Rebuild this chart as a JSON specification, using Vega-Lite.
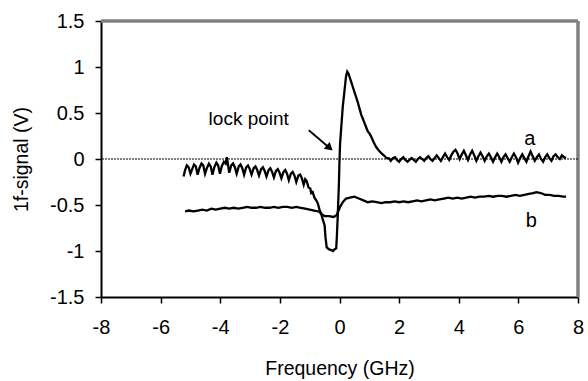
{
  "$schema": "https://vega.github.io/schema/vega-lite/v6.json",
  "width": 477,
  "height": 276,
  "autosize": {"type": "none"},
  "padding": {"left": 101, "top": 21, "right": 10, "bottom": 84},
  "background": "white",
  "config": {
    "view": {"stroke": null},
    "font": "Liberation Sans",
    "axis": {
      "grid": false,
      "zindex": 1,
      "domainColor": "black",
      "domainWidth": 2,
      "tickColor": "black",
      "tickWidth": 1.5,
      "tickSize": 6,
      "labelFontSize": 20,
      "labelColor": "black",
      "labelFlush": false,
      "titleFontSize": 19.5,
      "titleFontWeight": "normal",
      "titleColor": "black"
    }
  },
  "datasets": {
    "curves": [
      {"s": "a", "x": -5.23, "y": -0.19}, {"s": "a", "x": -5.18, "y": -0.12}, {"s": "a", "x": -5.12, "y": -0.07}, {"s": "a", "x": -5.06, "y": -0.09},
      {"s": "a", "x": -5.0, "y": -0.16}, {"s": "a", "x": -4.94, "y": -0.11}, {"s": "a", "x": -4.88, "y": -0.06}, {"s": "a", "x": -4.82, "y": -0.08},
      {"s": "a", "x": -4.76, "y": -0.17}, {"s": "a", "x": -4.7, "y": -0.10}, {"s": "a", "x": -4.63, "y": -0.05}, {"s": "a", "x": -4.57, "y": -0.07},
      {"s": "a", "x": -4.51, "y": -0.16}, {"s": "a", "x": -4.45, "y": -0.10}, {"s": "a", "x": -4.38, "y": -0.05}, {"s": "a", "x": -4.32, "y": -0.08},
      {"s": "a", "x": -4.26, "y": -0.17}, {"s": "a", "x": -4.2, "y": -0.09}, {"s": "a", "x": -4.13, "y": -0.04}, {"s": "a", "x": -4.07, "y": -0.07},
      {"s": "a", "x": -4.01, "y": -0.16}, {"s": "a", "x": -3.95, "y": -0.08}, {"s": "a", "x": -3.88, "y": -0.03}, {"s": "a", "x": -3.82, "y": -0.05},
      {"s": "a", "x": -3.78, "y": 0.02}, {"s": "a", "x": -3.74, "y": -0.06}, {"s": "a", "x": -3.7, "y": -0.15}, {"s": "a", "x": -3.63, "y": -0.07},
      {"s": "a", "x": -3.57, "y": -0.05}, {"s": "a", "x": -3.51, "y": -0.09}, {"s": "a", "x": -3.45, "y": -0.16}, {"s": "a", "x": -3.38, "y": -0.08},
      {"s": "a", "x": -3.32, "y": -0.06}, {"s": "a", "x": -3.26, "y": -0.10}, {"s": "a", "x": -3.2, "y": -0.17}, {"s": "a", "x": -3.13, "y": -0.09},
      {"s": "a", "x": -3.07, "y": -0.07}, {"s": "a", "x": -3.01, "y": -0.11}, {"s": "a", "x": -2.95, "y": -0.17}, {"s": "a", "x": -2.88, "y": -0.10},
      {"s": "a", "x": -2.82, "y": -0.08}, {"s": "a", "x": -2.76, "y": -0.12}, {"s": "a", "x": -2.7, "y": -0.18}, {"s": "a", "x": -2.63, "y": -0.11},
      {"s": "a", "x": -2.57, "y": -0.09}, {"s": "a", "x": -2.51, "y": -0.13}, {"s": "a", "x": -2.45, "y": -0.19}, {"s": "a", "x": -2.38, "y": -0.12},
      {"s": "a", "x": -2.32, "y": -0.10}, {"s": "a", "x": -2.26, "y": -0.14}, {"s": "a", "x": -2.2, "y": -0.20}, {"s": "a", "x": -2.13, "y": -0.13},
      {"s": "a", "x": -2.07, "y": -0.11}, {"s": "a", "x": -2.01, "y": -0.15}, {"s": "a", "x": -1.95, "y": -0.21}, {"s": "a", "x": -1.88, "y": -0.14},
      {"s": "a", "x": -1.82, "y": -0.12}, {"s": "a", "x": -1.76, "y": -0.16}, {"s": "a", "x": -1.7, "y": -0.23}, {"s": "a", "x": -1.63, "y": -0.16},
      {"s": "a", "x": -1.57, "y": -0.14}, {"s": "a", "x": -1.51, "y": -0.18}, {"s": "a", "x": -1.45, "y": -0.25}, {"s": "a", "x": -1.38, "y": -0.18},
      {"s": "a", "x": -1.32, "y": -0.17}, {"s": "a", "x": -1.26, "y": -0.21}, {"s": "a", "x": -1.2, "y": -0.28}, {"s": "a", "x": -1.15, "y": -0.22},
      {"s": "a", "x": -1.1, "y": -0.24}, {"s": "a", "x": -1.04, "y": -0.31}, {"s": "a", "x": -0.98, "y": -0.32}, {"s": "a", "x": -0.95, "y": -0.37},
      {"s": "a", "x": -0.9, "y": -0.36}, {"s": "a", "x": -0.84, "y": -0.42}, {"s": "a", "x": -0.78, "y": -0.45}, {"s": "a", "x": -0.73, "y": -0.48},
      {"s": "a", "x": -0.67, "y": -0.55}, {"s": "a", "x": -0.61, "y": -0.60}, {"s": "a", "x": -0.56, "y": -0.66}, {"s": "a", "x": -0.5, "y": -0.72},
      {"s": "a", "x": -0.47, "y": -0.85}, {"s": "a", "x": -0.43, "y": -0.96}, {"s": "a", "x": -0.36, "y": -0.98}, {"s": "a", "x": -0.28, "y": -0.99},
      {"s": "a", "x": -0.22, "y": -1.0}, {"s": "a", "x": -0.16, "y": -0.98}, {"s": "a", "x": -0.11, "y": -0.97}, {"s": "a", "x": -0.09, "y": -0.85},
      {"s": "a", "x": -0.06, "y": -0.63}, {"s": "a", "x": -0.02, "y": -0.27}, {"s": "a", "x": 0.0, "y": -0.01}, {"s": "a", "x": 0.02, "y": 0.17},
      {"s": "a", "x": 0.06, "y": 0.35}, {"s": "a", "x": 0.11, "y": 0.57}, {"s": "a", "x": 0.17, "y": 0.75}, {"s": "a", "x": 0.22, "y": 0.90},
      {"s": "a", "x": 0.26, "y": 0.95}, {"s": "a", "x": 0.3, "y": 0.93}, {"s": "a", "x": 0.35, "y": 0.88}, {"s": "a", "x": 0.39, "y": 0.84},
      {"s": "a", "x": 0.45, "y": 0.78}, {"s": "a", "x": 0.5, "y": 0.73}, {"s": "a", "x": 0.55, "y": 0.68}, {"s": "a", "x": 0.61, "y": 0.62},
      {"s": "a", "x": 0.67, "y": 0.55}, {"s": "a", "x": 0.73, "y": 0.48}, {"s": "a", "x": 0.78, "y": 0.44}, {"s": "a", "x": 0.84, "y": 0.39},
      {"s": "a", "x": 0.9, "y": 0.34}, {"s": "a", "x": 0.95, "y": 0.30}, {"s": "a", "x": 1.02, "y": 0.27}, {"s": "a", "x": 1.08, "y": 0.23},
      {"s": "a", "x": 1.15, "y": 0.18}, {"s": "a", "x": 1.23, "y": 0.13}, {"s": "a", "x": 1.3, "y": 0.10}, {"s": "a", "x": 1.38, "y": 0.07},
      {"s": "a", "x": 1.45, "y": 0.05}, {"s": "a", "x": 1.52, "y": 0.03}, {"s": "a", "x": 1.58, "y": 0.01}, {"s": "a", "x": 1.65, "y": 0.01},
      {"s": "a", "x": 1.72, "y": -0.02}, {"s": "a", "x": 1.79, "y": 0.01}, {"s": "a", "x": 1.86, "y": 0.02}, {"s": "a", "x": 1.93, "y": -0.01},
      {"s": "a", "x": 2.0, "y": -0.03}, {"s": "a", "x": 2.07, "y": 0.0}, {"s": "a", "x": 2.14, "y": 0.02}, {"s": "a", "x": 2.21, "y": -0.01},
      {"s": "a", "x": 2.28, "y": -0.03}, {"s": "a", "x": 2.35, "y": -0.01}, {"s": "a", "x": 2.42, "y": 0.01}, {"s": "a", "x": 2.49, "y": -0.01},
      {"s": "a", "x": 2.56, "y": -0.03}, {"s": "a", "x": 2.63, "y": 0.0}, {"s": "a", "x": 2.7, "y": 0.02}, {"s": "a", "x": 2.77, "y": 0.0},
      {"s": "a", "x": 2.84, "y": -0.02}, {"s": "a", "x": 2.91, "y": 0.01}, {"s": "a", "x": 2.98, "y": 0.03}, {"s": "a", "x": 3.05, "y": 0.0},
      {"s": "a", "x": 3.12, "y": -0.02}, {"s": "a", "x": 3.19, "y": 0.01}, {"s": "a", "x": 3.26, "y": 0.04}, {"s": "a", "x": 3.33, "y": 0.01},
      {"s": "a", "x": 3.4, "y": -0.02}, {"s": "a", "x": 3.47, "y": 0.02}, {"s": "a", "x": 3.54, "y": 0.06}, {"s": "a", "x": 3.61, "y": 0.02},
      {"s": "a", "x": 3.68, "y": -0.01}, {"s": "a", "x": 3.75, "y": 0.04}, {"s": "a", "x": 3.82, "y": 0.08}, {"s": "a", "x": 3.89, "y": 0.10},
      {"s": "a", "x": 3.96, "y": 0.06}, {"s": "a", "x": 4.03, "y": 0.0}, {"s": "a", "x": 4.1, "y": 0.05}, {"s": "a", "x": 4.17, "y": 0.09},
      {"s": "a", "x": 4.24, "y": 0.04}, {"s": "a", "x": 4.31, "y": -0.01}, {"s": "a", "x": 4.38, "y": 0.05}, {"s": "a", "x": 4.45, "y": 0.09},
      {"s": "a", "x": 4.52, "y": 0.04}, {"s": "a", "x": 4.59, "y": -0.02}, {"s": "a", "x": 4.66, "y": 0.03}, {"s": "a", "x": 4.73, "y": 0.07},
      {"s": "a", "x": 4.8, "y": 0.03}, {"s": "a", "x": 4.87, "y": -0.02}, {"s": "a", "x": 4.94, "y": 0.03}, {"s": "a", "x": 5.01, "y": 0.06},
      {"s": "a", "x": 5.08, "y": 0.02}, {"s": "a", "x": 5.15, "y": -0.03}, {"s": "a", "x": 5.22, "y": 0.02}, {"s": "a", "x": 5.29, "y": 0.06},
      {"s": "a", "x": 5.36, "y": 0.02}, {"s": "a", "x": 5.43, "y": -0.03}, {"s": "a", "x": 5.5, "y": 0.02}, {"s": "a", "x": 5.57, "y": 0.05},
      {"s": "a", "x": 5.64, "y": 0.01}, {"s": "a", "x": 5.71, "y": -0.03}, {"s": "a", "x": 5.78, "y": 0.02}, {"s": "a", "x": 5.85, "y": 0.06},
      {"s": "a", "x": 5.92, "y": 0.02}, {"s": "a", "x": 5.99, "y": -0.04}, {"s": "a", "x": 6.06, "y": 0.01}, {"s": "a", "x": 6.13, "y": 0.05},
      {"s": "a", "x": 6.2, "y": 0.01}, {"s": "a", "x": 6.27, "y": -0.03}, {"s": "a", "x": 6.34, "y": 0.03}, {"s": "a", "x": 6.41, "y": 0.08},
      {"s": "a", "x": 6.48, "y": 0.03}, {"s": "a", "x": 6.55, "y": -0.02}, {"s": "a", "x": 6.62, "y": 0.02}, {"s": "a", "x": 6.69, "y": 0.05},
      {"s": "a", "x": 6.76, "y": 0.0}, {"s": "a", "x": 6.83, "y": -0.03}, {"s": "a", "x": 6.9, "y": 0.02}, {"s": "a", "x": 6.97, "y": 0.05},
      {"s": "a", "x": 7.04, "y": 0.01}, {"s": "a", "x": 7.11, "y": -0.02}, {"s": "a", "x": 7.18, "y": 0.03}, {"s": "a", "x": 7.25, "y": 0.05},
      {"s": "a", "x": 7.32, "y": 0.02}, {"s": "a", "x": 7.39, "y": 0.0}, {"s": "a", "x": 7.46, "y": 0.04}, {"s": "a", "x": 7.53, "y": 0.02},
      {"s": "a", "x": 7.6, "y": 0.01},
      {"s": "b", "x": -5.18, "y": -0.57}, {"s": "b", "x": -5.05, "y": -0.56}, {"s": "b", "x": -4.9, "y": -0.57}, {"s": "b", "x": -4.75, "y": -0.56},
      {"s": "b", "x": -4.6, "y": -0.55}, {"s": "b", "x": -4.45, "y": -0.56}, {"s": "b", "x": -4.3, "y": -0.54}, {"s": "b", "x": -4.15, "y": -0.55},
      {"s": "b", "x": -4.0, "y": -0.54}, {"s": "b", "x": -3.85, "y": -0.53}, {"s": "b", "x": -3.7, "y": -0.54}, {"s": "b", "x": -3.55, "y": -0.53},
      {"s": "b", "x": -3.4, "y": -0.54}, {"s": "b", "x": -3.25, "y": -0.53}, {"s": "b", "x": -3.1, "y": -0.52}, {"s": "b", "x": -2.95, "y": -0.53},
      {"s": "b", "x": -2.8, "y": -0.53}, {"s": "b", "x": -2.65, "y": -0.52}, {"s": "b", "x": -2.5, "y": -0.53}, {"s": "b", "x": -2.35, "y": -0.53},
      {"s": "b", "x": -2.2, "y": -0.52}, {"s": "b", "x": -2.05, "y": -0.53}, {"s": "b", "x": -1.9, "y": -0.52}, {"s": "b", "x": -1.75, "y": -0.52},
      {"s": "b", "x": -1.6, "y": -0.53}, {"s": "b", "x": -1.45, "y": -0.52}, {"s": "b", "x": -1.3, "y": -0.53}, {"s": "b", "x": -1.15, "y": -0.54},
      {"s": "b", "x": -1.0, "y": -0.55}, {"s": "b", "x": -0.85, "y": -0.56}, {"s": "b", "x": -0.7, "y": -0.57}, {"s": "b", "x": -0.6, "y": -0.60},
      {"s": "b", "x": -0.5, "y": -0.62}, {"s": "b", "x": -0.35, "y": -0.62}, {"s": "b", "x": -0.2, "y": -0.63}, {"s": "b", "x": -0.1, "y": -0.61},
      {"s": "b", "x": -0.03, "y": -0.56}, {"s": "b", "x": 0.02, "y": -0.52}, {"s": "b", "x": 0.11, "y": -0.47}, {"s": "b", "x": 0.22, "y": -0.43},
      {"s": "b", "x": 0.35, "y": -0.42}, {"s": "b", "x": 0.5, "y": -0.41}, {"s": "b", "x": 0.65, "y": -0.43}, {"s": "b", "x": 0.8, "y": -0.45},
      {"s": "b", "x": 0.95, "y": -0.47}, {"s": "b", "x": 1.1, "y": -0.46}, {"s": "b", "x": 1.25, "y": -0.47}, {"s": "b", "x": 1.4, "y": -0.48},
      {"s": "b", "x": 1.55, "y": -0.47}, {"s": "b", "x": 1.7, "y": -0.47}, {"s": "b", "x": 1.85, "y": -0.46}, {"s": "b", "x": 2.0, "y": -0.47},
      {"s": "b", "x": 2.15, "y": -0.46}, {"s": "b", "x": 2.3, "y": -0.47}, {"s": "b", "x": 2.45, "y": -0.46}, {"s": "b", "x": 2.6, "y": -0.45},
      {"s": "b", "x": 2.75, "y": -0.46}, {"s": "b", "x": 2.9, "y": -0.45}, {"s": "b", "x": 3.05, "y": -0.44}, {"s": "b", "x": 3.2, "y": -0.45},
      {"s": "b", "x": 3.35, "y": -0.44}, {"s": "b", "x": 3.5, "y": -0.43}, {"s": "b", "x": 3.65, "y": -0.42}, {"s": "b", "x": 3.8, "y": -0.43},
      {"s": "b", "x": 3.95, "y": -0.42}, {"s": "b", "x": 4.1, "y": -0.43}, {"s": "b", "x": 4.25, "y": -0.42}, {"s": "b", "x": 4.4, "y": -0.41},
      {"s": "b", "x": 4.55, "y": -0.42}, {"s": "b", "x": 4.7, "y": -0.41}, {"s": "b", "x": 4.85, "y": -0.41}, {"s": "b", "x": 5.0, "y": -0.40},
      {"s": "b", "x": 5.15, "y": -0.41}, {"s": "b", "x": 5.3, "y": -0.40}, {"s": "b", "x": 5.45, "y": -0.40}, {"s": "b", "x": 5.6, "y": -0.41},
      {"s": "b", "x": 5.75, "y": -0.40}, {"s": "b", "x": 5.9, "y": -0.39}, {"s": "b", "x": 6.05, "y": -0.40}, {"s": "b", "x": 6.2, "y": -0.39},
      {"s": "b", "x": 6.35, "y": -0.38}, {"s": "b", "x": 6.5, "y": -0.37}, {"s": "b", "x": 6.6, "y": -0.36}, {"s": "b", "x": 6.75, "y": -0.37},
      {"s": "b", "x": 6.9, "y": -0.39}, {"s": "b", "x": 7.05, "y": -0.39}, {"s": "b", "x": 7.2, "y": -0.40}, {"s": "b", "x": 7.35, "y": -0.40},
      {"s": "b", "x": 7.5, "y": -0.41}, {"s": "b", "x": 7.6, "y": -0.41}
    ],
    "labels": [
      {"x": -4.39, "y": 0.375, "text": "lock point", "align": "left"},
      {"x": 6.38, "y": 0.149, "text": "a", "align": "center"},
      {"x": 6.43, "y": -0.742, "text": "b", "align": "center"}
    ],
    "arrow": [
      {"x": -1.03, "y": 0.313, "x2": -0.33, "y2": 0.12}
    ],
    "frameTop": [{"y": 1.5}],
    "frameRight": [{"x": 8}]
  },
  "layer": [
    {
      "data": {"name": "frameTop"},
      "mark": {"type": "rule", "color": "gray", "strokeWidth": 3.5},
      "encoding": {"y": {"field": "y", "type": "quantitative", "scale": {"domain": [-1.5, 1.5], "nice": false}}}
    },
    {
      "data": {"name": "frameRight"},
      "mark": {"type": "rule", "color": "gray", "strokeWidth": 3.5},
      "encoding": {"x": {"field": "x", "type": "quantitative", "scale": {"domain": [-8, 8], "nice": false}}}
    },
    {
      "data": {"values": [{"y": 0}]},
      "mark": {"type": "rule", "strokeDash": [2, 1], "strokeWidth": 1, "color": "black"},
      "encoding": {"y": {"field": "y", "type": "quantitative"}}
    },
    {
      "data": {"name": "curves"},
      "mark": {"type": "line", "color": "black", "strokeWidth": 2.3},
      "encoding": {
        "x": {
          "field": "x", "type": "quantitative",
          "axis": {
            "values": [-8, -6, -4, -2, 0, 2, 4, 6, 8],
            "title": "Frequency (GHz)",
            "labelPadding": 14,
            "labelExpr": "toString(datum.value)",
            "titleBaseline": "alphabetic",
            "titleY": 77
          }
        },
        "y": {
          "field": "y", "type": "quantitative",
          "axis": {
            "values": [-1.5, -1, -0.5, 0, 0.5, 1, 1.5],
            "title": "1f-signal (V)",
            "labelPadding": 11,
            "labelExpr": "toString(datum.value)",
            "titleBaseline": "alphabetic",
            "titleX": -74
          }
        },
        "detail": {"field": "s"}
      }
    },
    {
      "data": {"name": "arrow"},
      "mark": {"type": "rule", "color": "black", "strokeWidth": 1.8},
      "encoding": {
        "x": {"field": "x", "type": "quantitative"},
        "y": {"field": "y", "type": "quantitative"},
        "x2": {"field": "x2"},
        "y2": {"field": "y2"}
      }
    },
    {
      "data": {"name": "arrow"},
      "mark": {"type": "point", "shape": "triangle-right", "filled": true, "color": "black", "opacity": 1, "size": 80, "angle": 40.8},
      "encoding": {
        "x": {"field": "x2", "type": "quantitative"},
        "y": {"field": "y2", "type": "quantitative"}
      }
    },
    {
      "data": {"name": "labels"},
      "transform": [{"filter": "datum.align == 'left'"}],
      "mark": {"type": "text", "align": "left", "baseline": "alphabetic", "fontSize": 19, "color": "black"},
      "encoding": {
        "x": {"field": "x", "type": "quantitative"},
        "y": {"field": "y", "type": "quantitative"},
        "text": {"field": "text"}
      }
    },
    {
      "data": {"name": "labels"},
      "transform": [{"filter": "datum.align == 'center'"}],
      "mark": {"type": "text", "align": "center", "baseline": "alphabetic", "fontSize": 20, "color": "black"},
      "encoding": {
        "x": {"field": "x", "type": "quantitative"},
        "y": {"field": "y", "type": "quantitative"},
        "text": {"field": "text"}
      }
    }
  ]
}
